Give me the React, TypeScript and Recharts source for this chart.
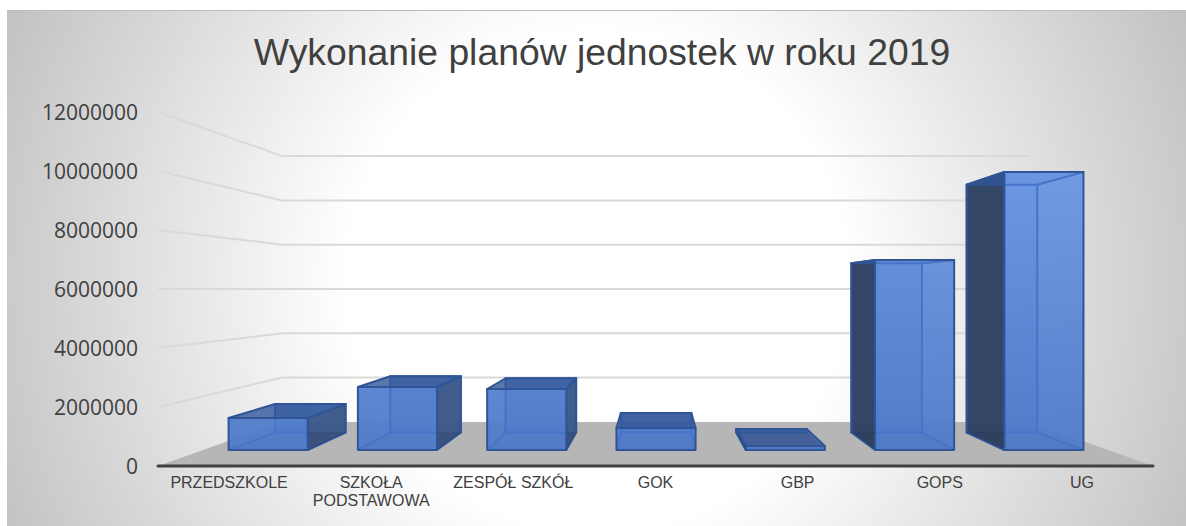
import { BarChart, Bar, XAxis, YAxis, CartesianGrid, Text } from 'recharts'

const categories = ['PRZEDSZKOLE', 'SZKOŁA PODSTAWOWA', 'ZESPÓŁ SZKÓŁ', 'GOK', 'GBP', 'GOPS', 'UG']
const values = [1190000, 2350000, 2270000, 820000, 150000, 7080000, 10360000]
const yTicks = [0, 2000000, 4000000, 6000000, 8000000, 10000000, 12000000]
const title = 'Wykonanie planów jednostek w roku 2019'

const data = categories.map((name, i) => ({ name, value: values[i] }))

// vanishing point of the fake 3D floor, everything is scaled towards it
const VP_X = 657
const VP_Y = 289
const WALL = 0.751
const BAR_FRONT = 0.9096
const BAR_BACK = 0.811
const PLOT_BOTTOM = 466

const project = (x: number, y: number, s: number) => [VP_X + (x - VP_X) * s, VP_Y + (y - VP_Y) * s]
const pts = (list: number[][]) => list.map((p) => p.join(',')).join(' ')

function GridLine({ x1, y1, x2 }: any) {
    const [bx1, by] = project(x1, y1, WALL)
    const [bx2] = project(x2, y1, WALL)
    if (y1 >= PLOT_BOTTOM - 1) {
        return <polygon points={pts([[x1, y1], [bx1, by], [bx2, by], [x2, y1]])} fill="#b6b6b6" />
    }
    return <polyline points={pts([[x1, y1], [bx1, by], [bx2, by]])} fill="none" stroke="#d9d9d9" strokeWidth={2} />
}

function Box3D({ x, y, width, height, index }: any) {
    const x2 = x + width
    const y2 = y + height
    const fTL = project(x, y, BAR_FRONT)
    const fTR = project(x2, y, BAR_FRONT)
    const fBL = project(x, y2, BAR_FRONT)
    const fBR = project(x2, y2, BAR_FRONT)
    const bTL = project(x, y, BAR_BACK)
    const bTR = project(x2, y, BAR_BACK)
    const bBL = project(x, y2, BAR_BACK)
    const bBR = project(x2, y2, BAR_BACK)
    const edge = { stroke: '#2f5597', strokeWidth: 2, strokeLinejoin: 'round' as const }
    const inner = { stroke: '#4574c8', strokeWidth: 2, fill: 'none' }
    const clipId = `front-${index}`
    return (
        <g>
            <clipPath id={clipId}>
                <polygon points={pts([fTL, fTR, fBR, fBL])} />
            </clipPath>
            <polygon points={pts([bTL, bTR, bBR, bBL])} fill="#4472c4" fillOpacity={0.7} stroke="#3f69b5" strokeWidth={2} />
            {/* only the side pointing away from the vanishing point shows */}
            {bTL[0] < fTL[0] && <polygon points={pts([fTL, fBL, bBL, bTL])} fill="#30415f" fillOpacity={0.95} {...edge} />}
            {bTR[0] > fTR[0] && <polygon points={pts([fTR, fBR, bBR, bTR])} fill="#3a5685" fillOpacity={0.9} {...edge} />}
            <polygon points={pts([fBL, fBR, bBR, bBL])} fill="#1a2c55" fillOpacity={0.25} />
            <polygon points={pts([fTL, fTR, bTR, bTL])} fill="#2f5597" fillOpacity={0.8} {...edge} />
            <polygon points={pts([fTL, fTR, fBR, fBL])} fill="url(#frontFace)" fillOpacity={0.95} />
            <g clipPath={`url(#${clipId})`}>
                <polygon points={pts([bTL, bTR, bBR, bBL])} {...inner} />
                <polyline points={pts([fBL, bBL])} {...inner} />
                <polyline points={pts([fBR, bBR])} {...inner} />
                <polyline points={pts([fTL, bTL])} {...inner} />
                <polyline points={pts([fTR, bTR])} {...inner} />
            </g>
            <polygon points={pts([fTL, fTR, fBR, fBL])} fill="none" {...edge} />
        </g>
    )
}

function CategoryTick({ x, y, payload }: any) {
    return (
        <Text
            x={x}
            y={y}
            width={130}
            textAnchor="middle"
            verticalAnchor="start"
            lineHeight={18}
            fill="#404040"
            style={{ fontFamily: '"Liberation Sans", Arial, sans-serif', fontSize: 16 }}
        >
            {payload.value}
        </Text>
    )
}

export default function App() {
    return (
        <div style={{ position: 'absolute', left: 0, top: 0, width: 1186, height: 526, background: '#fff', overflow: 'hidden' }}>
            <div
                style={{
                    position: 'absolute',
                    left: 7,
                    top: 10,
                    width: 1179,
                    height: 516,
                    borderTop: '1px solid #bbbbbb',
                    boxSizing: 'border-box',
                    background: 'radial-gradient(circle at 590px 270px, #ffffff 250px, #c0c0c0 660px)',
                }}
            />
            <div style={{ position: 'absolute', left: 0, top: 0 }}>
                <BarChart
                    width={1186}
                    height={526}
                    data={data}
                    margin={{ top: 112, right: 33, bottom: 0, left: 0 }}
                    barSize={87}
                >
                    <defs>
                        <linearGradient id="frontFace" gradientUnits="userSpaceOnUse" x1="0" y1="170" x2="0" y2="450">
                            <stop offset="0%" stopColor="#6c97e3" />
                            <stop offset="100%" stopColor="#4f7ac9" />
                        </linearGradient>
                    </defs>
                    <text
                        x={602}
                        y={65}
                        textAnchor="middle"
                        fill="#404040"
                        style={{ fontFamily: '"Liberation Sans", Arial, sans-serif', fontSize: 37.3 }}
                    >
                        {title}
                    </text>
                    <CartesianGrid vertical={false} horizontal={(p: any) => <GridLine key={p.key ?? p.y1} {...p} />} />
                    <XAxis
                        dataKey="name"
                        height={60}
                        interval={0}
                        tickLine={false}
                        tickSize={0}
                        tickMargin={11}
                        axisLine={{ stroke: '#404040', strokeWidth: 3, strokeLinecap: 'round' }}
                        tick={<CategoryTick />}
                    />
                    <YAxis
                        width={158}
                        domain={[0, 12000000]}
                        ticks={yTicks}
                        interval={0}
                        axisLine={false}
                        tickLine={false}
                        tickSize={0}
                        tickMargin={20}
                        tick={{ fill: '#404040', fontSize: 21, fontFamily: '"Open Sans", sans-serif', dy: 1 }}
                    />
                    <Bar dataKey="value" shape={<Box3D />} isAnimationActive={false} />
                </BarChart>
            </div>
        </div>
    )
}
